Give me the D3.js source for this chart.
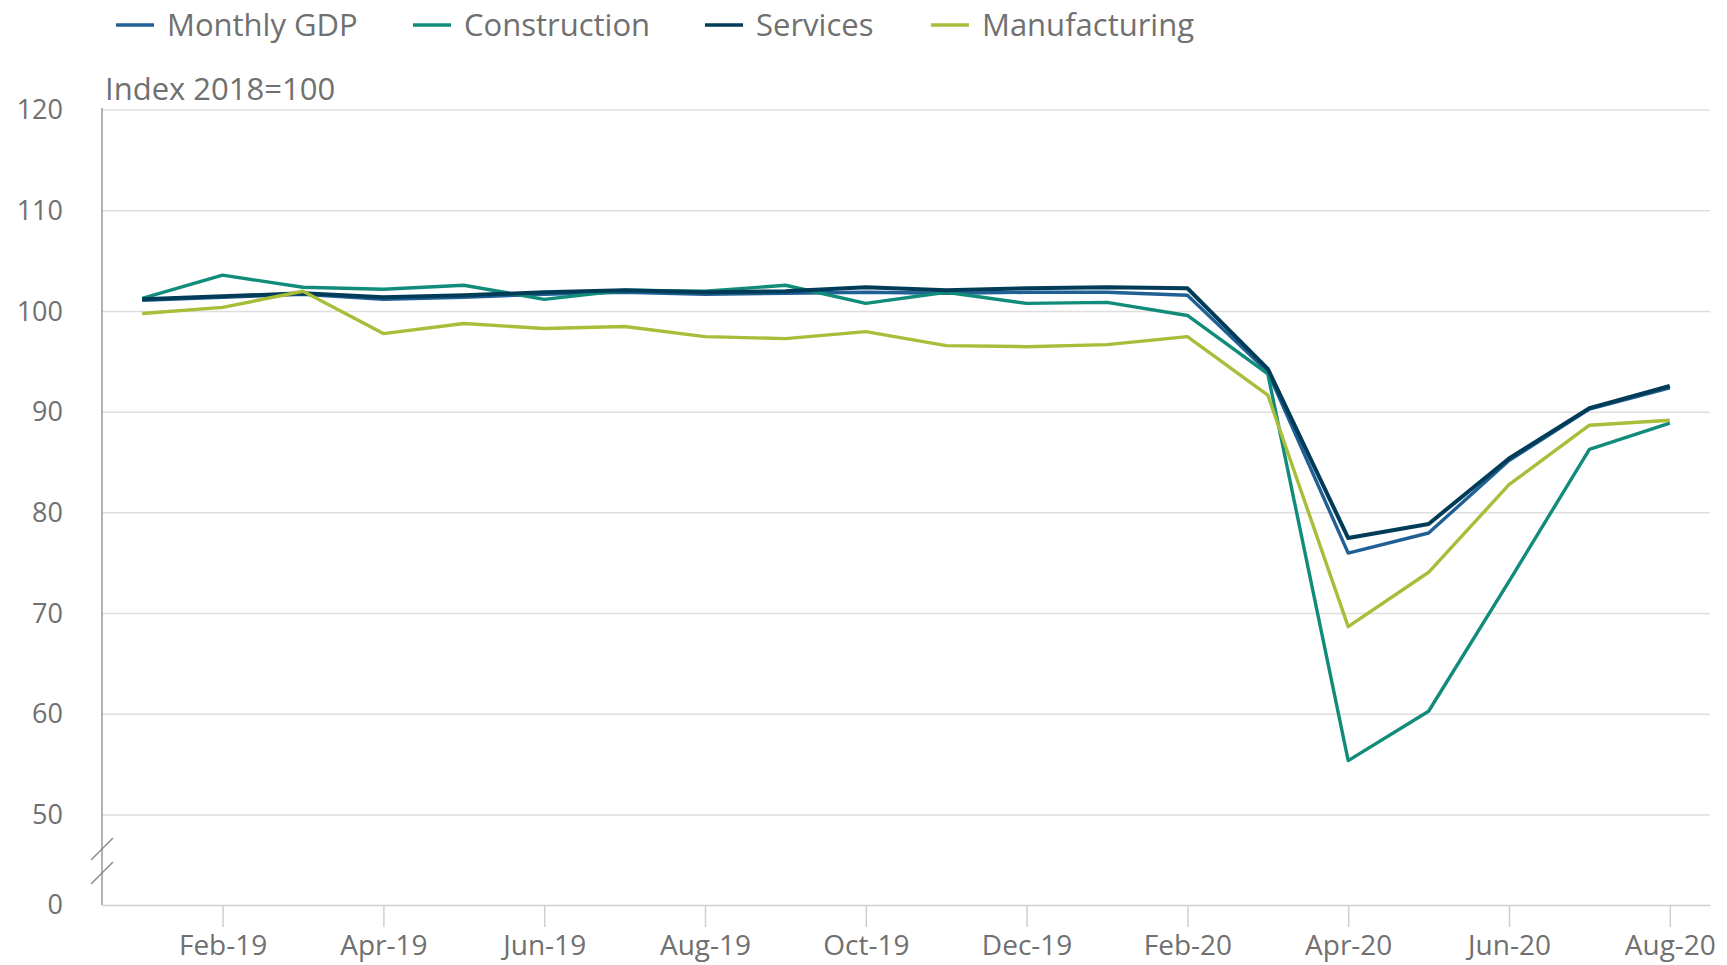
<!DOCTYPE html>
<html>
<head>
<meta charset="utf-8">
<script src="https://cdn.jsdelivr.net/npm/d3@7"></script>
<style>
	html, body { margin: 0; padding: 0; background: #fff; }
	svg { display: block; font-family: "Open Sans", sans-serif; }
</style>
</head>
<body>
<div id="chart"></div>
<script>

var months = ['Jan-19','Feb-19','Mar-19','Apr-19','May-19','Jun-19','Jul-19','Aug-19','Sep-19','Oct-19','Nov-19','Dec-19',
	'Jan-20','Feb-20','Mar-20','Apr-20','May-20','Jun-20','Jul-20','Aug-20'];

var monthlyGdp = [101.1, 101.4, 101.7, 101.2, 101.4, 101.7, 101.9, 101.7, 101.8, 101.9, 101.8, 101.9, 101.9, 101.6, 94.0, 76.0, 78.0, 85.2, 90.3, 92.4];
var construction = [101.3, 103.6, 102.4, 102.2, 102.6, 101.2, 102.1, 102.0, 102.6, 100.8, 101.9, 100.8, 100.9, 99.6, 93.8, 55.4, 60.3, 73.2, 86.3, 88.9];
var services = [101.2, 101.5, 101.8, 101.4, 101.6, 101.9, 102.1, 101.9, 102.0, 102.4, 102.1, 102.3, 102.4, 102.3, 94.3, 77.5, 78.9, 85.4, 90.4, 92.6];
var manufacturing = [99.8, 100.4, 102.0, 97.8, 98.8, 98.3, 98.5, 97.5, 97.3, 98.0, 96.6, 96.5, 96.7, 97.5, 91.7, 68.7, 74.1, 82.8, 88.7, 89.2];

var yTicks = [0, 50, 60, 70, 80, 90, 100, 110, 120];
var xTickLabels = ['Feb-19','Apr-19','Jun-19','Aug-19','Oct-19','Dec-19','Feb-20','Apr-20','Jun-20','Aug-20'];

var seriesNames = ['Monthly GDP', 'Construction', 'Services', 'Manufacturing'];
var seriesValues = [monthlyGdp, construction, services, manufacturing];
var seriesColors = ['#206095', '#118c7b', '#003c57', '#a8bd3a'];

var width = 1727, height = 965;
var textColor = '#707070';
var font = '"Open Sans", sans-serif';

var svg = d3.select('#chart').append('svg')
	.attr('width', width)
	.attr('height', height);

// broken axis: 0 sits below a gap under 50
var y = d3.scaleLinear()
	.domain([0, 50, 120])
	.range([905, 815, 110]);

var x = d3.scalePoint()
	.domain(months)
	.range([102, 1710])
	.padding(0.5);

// gridlines
svg.append('g')
	.selectAll('line')
	.data(yTicks.filter(function(d) { return d > 0; }))
	.join('line')
	.attr('x1', 102)
	.attr('x2', 1710)
	.attr('y1', function(d) { return y(d); })
	.attr('y2', function(d) { return y(d); })
	.attr('stroke', '#dedede')
	.attr('stroke-width', 1.5);

// y axis
var yAxis = d3.axisLeft(y)
	.tickValues(yTicks)
	.tickSize(0)
	.tickPadding(0);

var gy = svg.append('g')
	.attr('transform', 'translate(63,0)')
	.call(yAxis)
	.attr('font-family', font);
gy.select('.domain').remove();
gy.selectAll('text')
	.attr('fill', textColor)
	.attr('font-size', 27)
	.attr('dy', '0.32em');

svg.append('line')
	.attr('x1', 102).attr('x2', 102)
	.attr('y1', 108).attr('y2', 905)
	.attr('stroke', '#9a9a9a')
	.attr('stroke-width', 1.5);

// break marks
[0, 24].forEach(function(off) {
	svg.append('line')
		.attr('x1', 91).attr('y1', 860 + off)
		.attr('x2', 113).attr('y2', 838 + off)
		.attr('stroke', '#8a8a8a')
		.attr('stroke-width', 1.5);
});

// x axis
var xAxis = d3.axisBottom(x)
	.tickValues(xTickLabels)
	.tickSize(22)
	.tickPadding(8)
	.tickSizeOuter(0);

var gx = svg.append('g')
	.attr('transform', 'translate(0,' + y(0) + ')')
	.call(xAxis)
	.attr('font-family', font);
gx.select('.domain')
	.attr('stroke', '#cfcfcf')
	.attr('stroke-width', 1.5);
gx.selectAll('.tick line')
	.attr('stroke', '#cfcfcf')
	.attr('stroke-width', 1.5);
gx.selectAll('text')
	.attr('fill', textColor)
	.attr('font-size', 28);

svg.append('text')
	.attr('x', 105)
	.attr('y', 100)
	.attr('fill', textColor)
	.attr('font-size', 31)
	.text('Index 2018=100');

// lines
var line = d3.line()
	.x(function(d, i) { return x(months[i]); })
	.y(function(d) { return y(d); });

svg.append('g')
	.selectAll('path')
	.data(seriesValues)
	.join('path')
	.attr('d', line)
	.attr('fill', 'none')
	.attr('stroke', function(d, i) { return seriesColors[i]; })
	.attr('stroke-width', function(d, i) { return i == 2 ? 4 : 3.4; })
	.attr('stroke-linejoin', 'round');

// legend
var legendX = [116, 413, 705, 931];
var legend = svg.append('g')
	.selectAll('g')
	.data(seriesNames)
	.join('g')
	.attr('transform', function(d, i) { return 'translate(' + legendX[i] + ',25)'; });

legend.append('line')
	.attr('x1', 0).attr('x2', 38)
	.attr('stroke', function(d, i) { return seriesColors[i]; })
	.attr('stroke-width', 3.5);

legend.append('text')
	.attr('x', 51)
	.attr('dy', '0.35em')
	.attr('fill', textColor)
	.attr('font-size', 31)
	.text(function(d) { return d; });

</script>
</body>
</html>
